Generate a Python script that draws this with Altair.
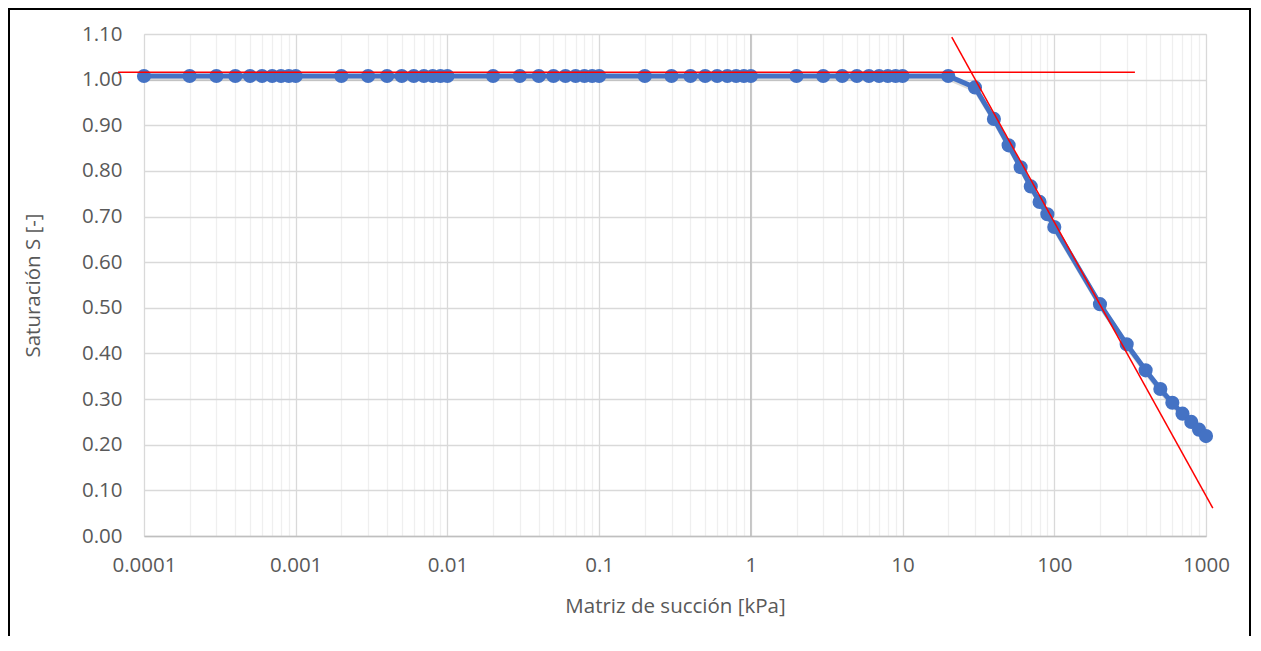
import altair as alt
import pandas as pd

# ---- data ----
suction = [0.0001, 0.0002, 0.0003, 0.0004, 0.0005, 0.0006, 0.0007, 0.0008, 0.0009,
           0.001, 0.002, 0.003, 0.004, 0.005, 0.006, 0.007, 0.008, 0.009,
           0.01, 0.02, 0.03, 0.04, 0.05, 0.06, 0.07, 0.08, 0.09,
           0.1, 0.2, 0.3, 0.4, 0.5, 0.6, 0.7, 0.8, 0.9,
           1, 2, 3, 4, 5, 6, 7, 8, 9,
           10, 20, 30, 40, 50, 60, 70, 80, 90,
           100, 200, 300, 400, 500, 600, 700, 800, 900, 1000]
saturation = [1.008] * 46 + [1.008, 0.983, 0.914, 0.856, 0.808, 0.766, 0.732, 0.705,
                             0.677, 0.508, 0.420, 0.363, 0.322, 0.292, 0.268, 0.250,
                             0.233, 0.219]

flat_x = [0.0000674, 340]
flat_y = [1.016, 1.016]
slope_x = [21.1, 1109]
slope_y = [1.093, 0.061]

x_major = [0.0001, 0.001, 0.01, 0.1, 1, 10, 100, 1000]
x_major_labels = ["0.0001", "0.001", "0.01", "0.1", "1", "10", "100", "1000"]
x_grid = suction  # grid at every 1..9 x 10^k
y_ticks = [0.0, 0.1, 0.2, 0.3, 0.4, 0.5, 0.6, 0.7, 0.8, 0.9, 1.0, 1.1]

FONT = "Open Sans"
FS = 20.5
BLUE = "#4472C4"

df = pd.DataFrame({"x": suction, "y": saturation})
red_df = pd.DataFrame({
    "x": flat_x + slope_x,
    "y": flat_y + slope_y,
    "seg": ["h", "h", "s", "s"],
})

major_js = "[" + ",".join(repr(v) for v in x_major) + "]"
labels_js = "[" + ",".join("'" + s + "'" for s in x_major_labels) + "]"
label_expr = (f"indexof({major_js}, datum.value) >= 0 ? "
              f"{labels_js}[indexof({major_js}, datum.value)] : ''")
grid_test = f"indexof({major_js}, datum.value) >= 0"

xscale = alt.Scale(type="log", domain=[0.0001, 1000], nice=False)
yscale = alt.Scale(domain=[0, 1.1], nice=False, zero=False)

xaxis = alt.Axis(
    title="Matriz de succión [kPa]",
    values=x_grid,
    labelExpr=label_expr,
    ticks=False, tickSize=0,
    grid=True,
    gridColor={"condition": {"test": grid_test, "value": "#d9d9d9"}, "value": "#efefef"},
    gridWidth=1.3,
    domain=True, domainColor="#bfbfbf", domainWidth=1.5,
    labelFont=FONT, labelFontSize=FS, labelColor="#595959", labelPadding=19,
    labelOverlap=False, labelFlush=False,
    titleFont=FONT, titleFontSize=FS, titleColor="#595959", titleFontWeight="normal",
    titleBaseline="middle", titleY=70,
)
yaxis = alt.Axis(
    title="Saturación S [-]",
    values=y_ticks, format=".2f",
    ticks=False, tickSize=0,
    grid=True, gridColor="#d9d9d9", gridWidth=1.3,
    domain=False,
    labelFont=FONT, labelFontSize=FS, labelColor="#595959", labelPadding=22,
    titleFont=FONT, titleFontSize=FS, titleColor="#595959", titleFontWeight="normal",
    titleBaseline="middle", titleX=-111,
)

base = alt.Chart(df)

yaxis_line = alt.Chart(pd.DataFrame({"x": [1]})).mark_rule(
    color="#bfbfbf", strokeWidth=1.5
).encode(x=alt.X("x:Q", scale=xscale, axis=xaxis))

shadow = base.mark_line(color="#999999", opacity=0.35, strokeWidth=5, yOffset=2.5, xOffset=1).encode(
    x=alt.X("x:Q", scale=xscale, axis=xaxis),
    y=alt.Y("y:Q", scale=yscale, axis=yaxis),
)
line = base.mark_line(color=BLUE, strokeWidth=5).encode(
    x=alt.X("x:Q", scale=xscale, axis=xaxis),
    y=alt.Y("y:Q", scale=yscale, axis=yaxis),
)
points = base.mark_circle(color=BLUE, size=200, opacity=1).encode(
    x=alt.X("x:Q", scale=xscale, axis=xaxis),
    y=alt.Y("y:Q", scale=yscale, axis=yaxis),
)
red = alt.Chart(red_df).mark_line(color="#ff0000", strokeWidth=1.5).encode(
    x=alt.X("x:Q", scale=xscale, axis=xaxis),
    y=alt.Y("y:Q", scale=yscale, axis=yaxis),
    detail="seg:N",
)

frame = alt.Chart(pd.DataFrame({"a": [0]})).mark_rect(
    fill=None, stroke="black", strokeWidth=2
).encode(
    x=alt.value(-135), x2=alt.value(1106),
    y=alt.value(-25), y2=alt.value(700),
)

chart = alt.layer(yaxis_line, shadow, line, points, red, frame).properties(
    width=1062, height=502,
    autosize=alt.AutoSizeParams(type="none"),
    padding={"left": 136, "top": 26, "right": 47, "bottom": 100},
).configure_view(stroke=None).configure(background="white")

chart.save("out.html", embed_options={"renderer": "svg", "actions": False})
